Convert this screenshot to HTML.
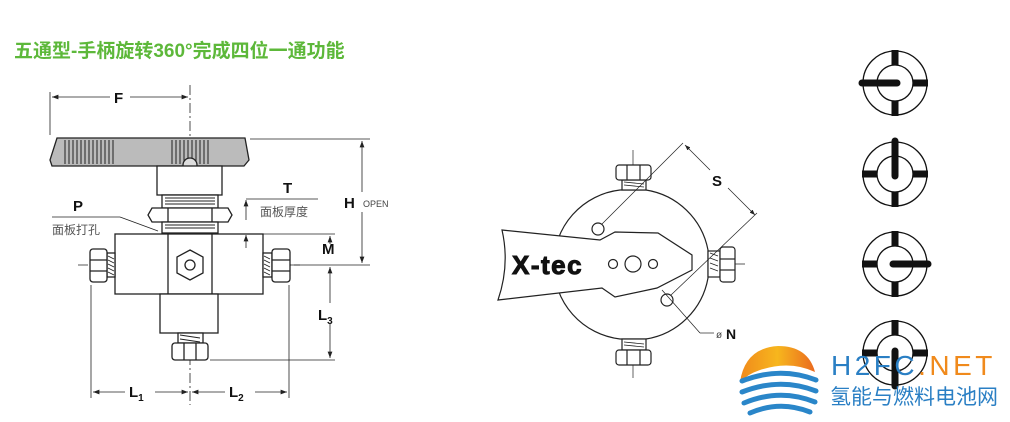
<!DOCTYPE html>
<html><head><meta charset="utf-8"><style>
html,body{margin:0;padding:0;background:#fff;width:1010px;height:422px;overflow:hidden}
</style></head><body>
<svg width="1010" height="422" viewBox="0 0 1010 422" xmlns="http://www.w3.org/2000/svg" font-family="Liberation Sans, Noto Sans CJK SC, sans-serif">
<defs>
<marker id="a" markerWidth="8" markerHeight="6" refX="8" refY="3" orient="auto-start-reverse"><path d="M0,0 L8,3 L0,6z" fill="#222"/></marker>
<linearGradient id="sun" x1="0" y1="0" x2="1" y2="0"><stop offset="0" stop-color="#f08a1c"/><stop offset="0.5" stop-color="#f7b61d"/><stop offset="1" stop-color="#ea6a1f"/></linearGradient>
</defs>
<text x="14" y="57" font-size="19" font-weight="bold" fill="#5db83a" font-family="Liberation Sans, Noto Sans CJK SC, sans-serif">五通型-手柄旋转360°完成四位一通功能</text>

<g stroke="#222" fill="none" stroke-width="1.3">
<line x1="190" y1="85" x2="190" y2="405" stroke-dasharray="10,3,2,3" stroke-width="0.8"/>
<line x1="78" y1="265" x2="300" y2="265" stroke-dasharray="10,3,2,3" stroke-width="0.8"/>
<path d="M57,138 L245,138 L249,160 L244,166 L52,166 L50,160 Z" fill="#bbb"/>
<g stroke-width="1">
<path d="M65,140v24M69,140v24M73,140v24M77,140v24M81,140v24M85,140v24M89,140v24M93,140v24M97,140v24M101,140v24M105,140v24M109,140v24M113,140v24"/>
<path d="M172,140v24M176,140v24M180,140v24M184,140v24M188,140v24M192,140v24M196,140v24M200,140v24M204,140v24M208,140v24"/>
</g>
<circle cx="190" cy="165" r="7" fill="#ddd"/>
<rect x="157" y="166" width="65" height="29" fill="#fff"/>
<rect x="162" y="195" width="56" height="13" fill="#fff"/>
<path d="M165,198h50M165,201h50M165,204h50" stroke-width="1"/>
<path d="M152,208 L228,208 L232,215 L228,222 L152,222 L148,215Z" fill="#fff"/>
<line x1="168" y1="208" x2="168" y2="222"/><line x1="212" y1="208" x2="212" y2="222"/>
<rect x="162" y="222" width="56" height="11" fill="#fff"/>
<path d="M165,225h50M165,228h50" stroke-width="1"/>
<rect x="115" y="234" width="148" height="60" fill="#fff"/>
<line x1="168" y1="234" x2="168" y2="294"/><line x1="212" y1="234" x2="212" y2="294"/>
<path d="M190,250 L203,257 L203,273 L190,280 L177,273 L177,257Z" fill="#fff"/>
<circle cx="190" cy="265" r="5"/>
<rect x="107" y="253" width="8" height="24" fill="#fff"/>
<path d="M108,256l6,3M108,260l6,3M108,264l6,3M108,268l6,3M108,272l6,3" stroke-width="0.9"/>
<rect x="90" y="249" width="17" height="33" rx="3" fill="#fff"/>
<line x1="90" y1="260" x2="107" y2="260"/><line x1="90" y1="271" x2="107" y2="271"/>
<rect x="263" y="253" width="9" height="24" fill="#fff"/>
<path d="M264,256l6,3M264,260l6,3M264,264l6,3M264,268l6,3M264,272l6,3" stroke-width="0.9"/>
<rect x="272" y="249" width="18" height="33" rx="3" fill="#fff"/>
<line x1="272" y1="260" x2="290" y2="260"/><line x1="272" y1="271" x2="290" y2="271"/>
<rect x="160" y="294" width="58" height="39" fill="#fff"/>
<rect x="178" y="333" width="25" height="10" fill="#fff"/>
<path d="M180,335l20,3M180,339l20,3" stroke-width="0.9"/>
<rect x="172" y="343" width="36" height="17" rx="3" fill="#fff"/>
<line x1="184" y1="343" x2="184" y2="360"/><line x1="196" y1="343" x2="196" y2="360"/>
<g stroke-width="0.8">
<line x1="50" y1="92" x2="50" y2="135"/>
<line x1="52" y1="97" x2="110" y2="97" marker-start="url(#a)"/><line x1="130" y1="97" x2="188" y2="97" marker-end="url(#a)"/>
<line x1="250" y1="139" x2="370" y2="139"/>
<line x1="290" y1="265" x2="370" y2="265"/>
<line x1="362" y1="141" x2="362" y2="192" marker-start="url(#a)"/><line x1="362" y1="212" x2="362" y2="263" marker-end="url(#a)"/>
<line x1="263" y1="234" x2="335" y2="234"/>
<line x1="210" y1="360" x2="335" y2="360"/>
<line x1="330" y1="236" x2="330" y2="244" marker-start="url(#a)"/>
<line x1="330" y1="267" x2="330" y2="303" marker-start="url(#a)"/><line x1="330" y1="323" x2="330" y2="358" marker-end="url(#a)"/>
<line x1="91" y1="285" x2="91" y2="398"/><line x1="289" y1="285" x2="289" y2="398"/>
<line x1="93" y1="392" x2="125" y2="392" marker-start="url(#a)"/><line x1="155" y1="392" x2="188" y2="392" marker-end="url(#a)"/>
<line x1="192" y1="392" x2="225" y2="392" marker-start="url(#a)"/><line x1="255" y1="392" x2="287" y2="392" marker-end="url(#a)"/>
<line x1="246" y1="199" x2="318" y2="199"/>
<line x1="246" y1="200" x2="246" y2="220" marker-start="url(#a)"/>
<line x1="246" y1="235" x2="246" y2="248" marker-start="url(#a)"/>
<line x1="52" y1="217" x2="120" y2="217"/><line x1="120" y1="217" x2="158" y2="231"/>
</g>
</g>
<g font-weight="bold" fill="#111" font-size="15">
<text x="114" y="103">F</text>
<text x="283" y="193">T</text>
<text x="73" y="211">P</text>
<text x="344" y="208">H</text>
<text x="322" y="254">M</text>
<text x="318" y="320">L<tspan font-size="10" dy="4">3</tspan></text>
<text x="129" y="397">L<tspan font-size="10" dy="4">1</tspan></text>
<text x="229" y="397">L<tspan font-size="10" dy="4">2</tspan></text>
</g>
<text x="363" y="207" font-size="9" fill="#444">OPEN</text>
<text x="260" y="216" font-size="12" fill="#555">面板厚度</text>
<text x="52" y="234" font-size="12" fill="#555">面板打孔</text>

<g stroke="#222" fill="none" stroke-width="1.2">
<line x1="633" y1="150" x2="633" y2="378" stroke-width="0.7"/>
<line x1="695" y1="264" x2="745" y2="264" stroke-width="0.7"/>
<path d="M620,190 L646,190 A75,75 0 0,1 708,250 L708,278 A75,75 0 0,1 646,339 L620,339 A75,75 0 0,1 620,190 Z" fill="#fff"/>
<rect x="622" y="180" width="24" height="10" fill="#fff"/>
<path d="M624,182l20,2M624,185l20,2" stroke-width="0.8"/>
<rect x="616" y="165" width="35" height="15" rx="3" fill="#fff"/>
<line x1="627" y1="165" x2="627" y2="180"/><line x1="640" y1="165" x2="640" y2="180"/>
<rect x="622" y="339" width="24" height="11" fill="#fff"/>
<path d="M624,342l20,2M624,345l20,2" stroke-width="0.8"/>
<rect x="616" y="350" width="35" height="15" rx="3" fill="#fff"/>
<line x1="627" y1="350" x2="627" y2="365"/><line x1="640" y1="350" x2="640" y2="365"/>
<rect x="708" y="251" width="12" height="26" fill="#fff"/>
<path d="M710,253l8,3M710,258l8,3M710,263l8,3M710,268l8,3" stroke-width="0.8"/>
<rect x="720" y="247" width="15" height="35" rx="3" fill="#fff"/>
<line x1="720" y1="259" x2="735" y2="259"/><line x1="720" y1="270" x2="735" y2="270"/>
<path d="M502,230 L600,240 L615,232 L658,233 L692,255 L692,270 L657,288 L615,297 L602,288 L498,300 Q510,265 502,230Z" fill="#fff"/>
<circle cx="613" cy="264" r="4.5"/><circle cx="633" cy="264" r="8"/><circle cx="653" cy="264" r="4.5"/>
<circle cx="598" cy="229" r="6" fill="#fff"/><circle cx="667" cy="300" r="6" fill="#fff"/>
<g stroke-width="0.7">
<line x1="602" y1="224" x2="683" y2="143"/>
<line x1="671" y1="295" x2="757" y2="213"/>
<line x1="685" y1="145" x2="710" y2="170" marker-start="url(#a)"/>
<line x1="728" y1="188" x2="755" y2="215" marker-end="url(#a)"/>
<line x1="662" y1="290" x2="700" y2="333"/><line x1="700" y1="333" x2="714" y2="333"/>
</g>
</g>
<text x="512" y="274" font-size="26" font-weight="900" fill="#111" stroke="#111" stroke-width="1" letter-spacing="1.5">X-tec</text>
<text x="712" y="186" font-size="15" font-weight="bold" fill="#111">S</text>
<text x="716" y="338" font-size="10" fill="#444">ø</text>
<text x="726" y="339" font-size="14" font-weight="bold" fill="#111">N</text>

<g stroke="#111" fill="none">
<g transform="translate(895,83)"><circle r="32" stroke-width="1.3"/><circle r="18" stroke-width="1.3"/>
<path d="M0,-33V-18M0,18V33M18,0H33" stroke-width="7"/><path d="M-33,0H2" stroke-width="7" stroke-linecap="round"/></g>
<g transform="translate(895,174)"><circle r="32" stroke-width="1.3"/><circle r="18" stroke-width="1.3"/>
<path d="M-33,0H-18M18,0H33M0,18V33" stroke-width="7"/><path d="M0,-33V2" stroke-width="7" stroke-linecap="round"/></g>
<g transform="translate(895,264)"><circle r="32" stroke-width="1.3"/><circle r="18" stroke-width="1.3"/>
<path d="M0,-33V-18M0,18V33M-33,0H-18" stroke-width="7"/><path d="M33,0H-2" stroke-width="7" stroke-linecap="round"/></g>
<g transform="translate(895,353)"><circle r="32" stroke-width="1.3"/><circle r="18" stroke-width="1.3"/>
<path d="M0,-33V-18M-33,0H-18M18,0H33" stroke-width="7"/><path d="M0,33V-2" stroke-width="7" stroke-linecap="round"/></g>
</g>

<!-- logo -->
<path d="M740,382 Q745,348 778,346 Q808,346 815,372 Q790,360 760,370 Q748,374 740,382Z" fill="url(#sun)"/>
<g stroke="#2a86c9" stroke-width="5" fill="none" stroke-linecap="round">
<path d="M742,381 Q780,366 816,380"/><path d="M742,392 Q780,377 816,391"/><path d="M744,403 Q780,388 815,402"/><path d="M750,413 Q780,400 810,412"/>
</g>
<text x="831" y="375" font-size="28" fill="#2a7fc4" letter-spacing="3.5">H2FC<tspan fill="#f08a1c">.NET</tspan></text>
<text x="830" y="404" font-size="21" fill="#2a7fc4" font-family="Liberation Sans, Noto Sans CJK SC, sans-serif">氢能与燃料电池网</text>
</svg>
</body></html>
